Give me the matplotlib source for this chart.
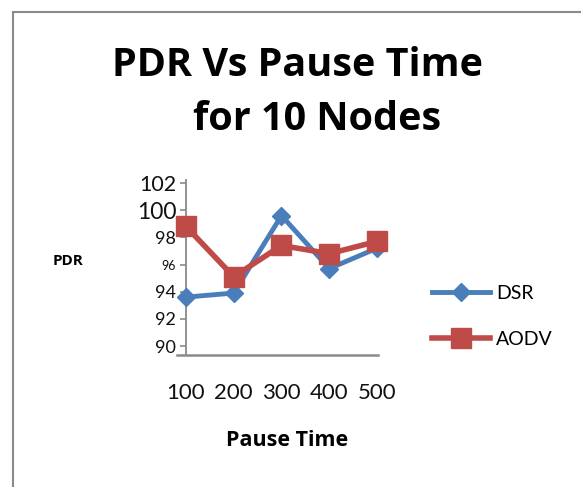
import matplotlib
matplotlib.use('Agg')
import matplotlib.pyplot as plt
from matplotlib.patches import Rectangle

plt.rcParams['font.family'] = ['Lato', 'DejaVu Sans']

# dados
pause_time = [100, 200, 300, 400, 500]
dsr = [93.6, 93.9, 99.6, 95.7, 97.2]
aodv = [98.8, 95.1, 97.4, 96.8, 97.7]
y_ticks = [90, 92, 94, 96, 98, 100, 102]
y_tick_sizes = [13, 13, 13, 9, 13, 16.5, 15.5]

W, H = 581, 487
fig = plt.figure(figsize=(W / 100, H / 100), dpi=100)

# moldura cinza do gráfico (sai pelas bordas)
fig.patches.append(Rectangle((13 / W, -0.1), 1.2, 1.1 - 12 / H, transform=fig.transFigure,
                             fill=False, edgecolor='#8a8a8a', linewidth=1.5))

ax = fig.add_axes([177 / W, 1 - 355 / H, 201 / W, 175 / H])
ax.set_xlim(81.15, 502.1)
ax.set_ylim(89.34, 102.22)

ax.plot(pause_time, dsr, color='#4A7EBB', linewidth=3.5, marker='D', markersize=9,
        label='DSR', clip_on=False, zorder=3)
ax.plot(pause_time, aodv, color='#BE4B48', linewidth=4, marker='s', markersize=15,
        label='AODV', clip_on=False, zorder=4)

for s in ['top', 'right']:
    ax.spines[s].set_visible(False)
ax.spines['left'].set_position(('data', 100))
ax.spines['left'].set_color('#8a8a8a')
ax.spines['left'].set_linewidth(1.3)
ax.spines['bottom'].set_color('#8a8a8a')
ax.spines['bottom'].set_linewidth(1.8)

ax.set_yticks(y_ticks)
ax.set_yticklabels([str(v) for v in y_ticks])
for lab, fs in zip(ax.get_yticklabels(), y_tick_sizes):
    lab.set_fontsize(fs)
ax.tick_params(axis='y', length=4, width=1.2, color='#8a8a8a', pad=3, labelcolor='#111111')

ax.set_xticks(pause_time)
ax.set_xticklabels([str(v) for v in pause_time], fontsize=16, color='#111111')
ax.tick_params(axis='x', length=0, pad=20)

bold = ['Open Sans', 'DejaVu Sans']
fig.text(298 / W, 1 - 66 / H, 'PDR Vs Pause Time', ha='center', va='center',
         fontsize=28.5, fontweight='bold', family=bold)
fig.text(317 / W, 1 - 120 / H, 'for 10 Nodes', ha='center', va='center',
         fontsize=28.5, fontweight='bold', family=bold)
fig.text(68 / W, 1 - 261 / H, 'PDR', ha='center', va='center', fontsize=11,
         fontweight='bold', family=bold)
fig.text(287 / W, 1 - 440 / H, 'Pause Time', ha='center', va='center', fontsize=15.5,
         fontweight='bold', family=bold)

fig.legend(loc='upper left', bbox_to_anchor=(432 / W, 1 - 285 / H), frameon=False,
           fontsize=14, handlelength=3.0, handletextpad=0.3, labelspacing=1.5,
           borderaxespad=0, borderpad=0)

fig.savefig('out.png', dpi=100, facecolor='white')
